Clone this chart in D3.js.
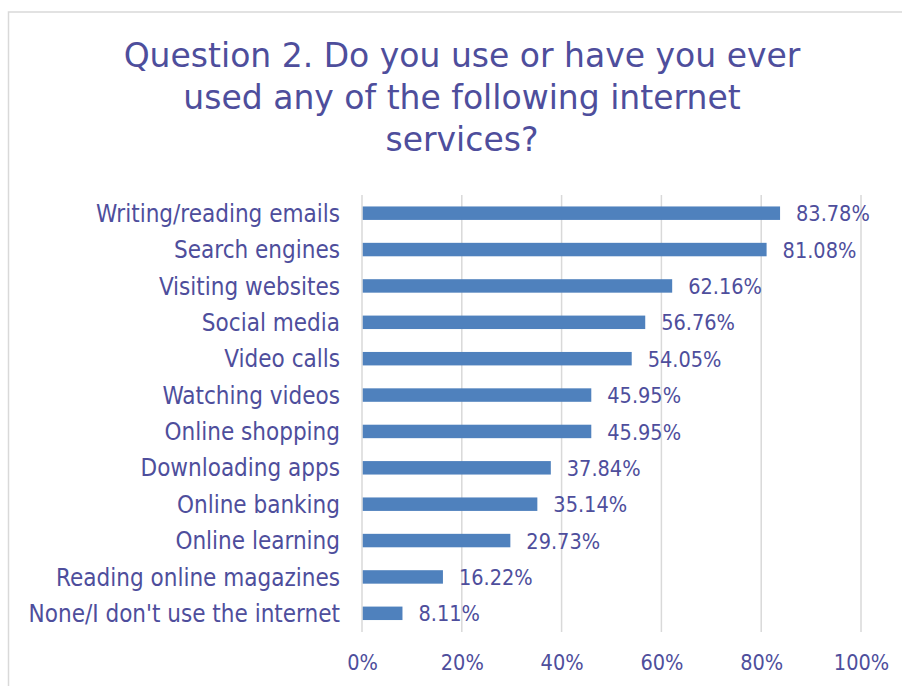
<!DOCTYPE html>
<html>
<head>
<meta charset="utf-8">
<script src="https://cdn.jsdelivr.net/npm/d3@7"></script>
<style>
  html, body { margin: 0; padding: 0; background: #fff; }
  svg { display: block; }
  text { font-family: "DejaVu Sans Condensed", "DejaVu Sans", sans-serif; fill: #4E4E9C; }
</style>
</head>
<body>
<script>
// Survey answers: share of respondents using each internet service
const services = [
  "Writing/reading emails",
  "Search engines",
  "Visiting websites",
  "Social media",
  "Video calls",
  "Watching videos",
  "Online shopping",
  "Downloading apps",
  "Online banking",
  "Online learning",
  "Reading online magazines",
  "None/I don't use the internet"
];
const shares = [83.78, 81.08, 62.16, 56.76, 54.05, 45.95, 45.95, 37.84, 35.14, 29.73, 16.22, 8.11];
const tickValues = [0, 20, 40, 60, 80, 100];
const titleLines = [
  "Question 2. Do you use or have you ever",
  "used any of the following internet",
  "services?"
];

const W = 902, H = 686;
const svg = d3.select("body").append("svg").attr("width", W).attr("height", H);

// chart frame
svg.append("rect")
  .attr("x", 8.5).attr("y", 12).attr("width", 920).attr("height", 700)
  .attr("fill", "#fff").attr("stroke", "#D9D9D9").attr("stroke-width", 1.5);

// title
svg.append("text")
  .attr("text-anchor", "middle")
  .style("font-family", "'DejaVu Sans', sans-serif")
  .style("font-size", "33px")
  .selectAll("tspan").data(titleLines).join("tspan")
  .attr("x", 462)
  .attr("y", (d, i) => 67 + i * 42)
  .text(d => d);

const x = d3.scaleLinear().domain([0, 100]).range([362, 861]);
const y = d3.scaleBand().domain(services).range([195, 631.5]).paddingInner(0.63).paddingOuter(0.315);

// vertical gridlines
svg.append("g").selectAll("line").data(tickValues).join("line")
  .attr("x1", d => x(d)).attr("x2", d => x(d))
  .attr("y1", 195).attr("y2", 632)
  .attr("stroke", "#D9D9D9").attr("stroke-width", 1.5);

// x-axis tick labels
const xAxis = d3.axisBottom(x).tickValues(tickValues).tickFormat(d => d + "%").tickSize(0).tickPadding(0);
const gx = svg.append("g").attr("transform", "translate(0,654)").call(xAxis);
gx.select(".domain").remove();
gx.selectAll("text")
  .attr("dy", 0).attr("y", 16)
  .style("font-size", "21.5px").style("font-family", null).attr("fill", null);

// category labels
const yAxis = d3.axisLeft(y).tickSize(0).tickPadding(0);
const gy = svg.append("g").attr("transform", "translate(340,0)").call(yAxis);
gy.select(".domain").remove();
gy.selectAll("text")
  .attr("dy", "0.36em")
  .style("font-size", "24px").style("font-family", null).attr("fill", null);

// bars
svg.append("g").selectAll("rect").data(shares).join("rect")
  .attr("x", x(0) + 0.75)
  .attr("y", (d, i) => y(services[i]))
  .attr("width", d => x(d) - x(0) - 0.75)
  .attr("height", y.bandwidth())
  .attr("fill", "#4F81BD");

// value labels
svg.append("g").selectAll("text").data(shares).join("text")
  .attr("x", d => x(d) + 16)
  .attr("y", (d, i) => y(services[i]) + y.bandwidth() / 2)
  .attr("dy", "0.38em")
  .style("font-size", "21.5px")
  .text(d => d.toFixed(2) + "%");
</script>
</body>
</html>
